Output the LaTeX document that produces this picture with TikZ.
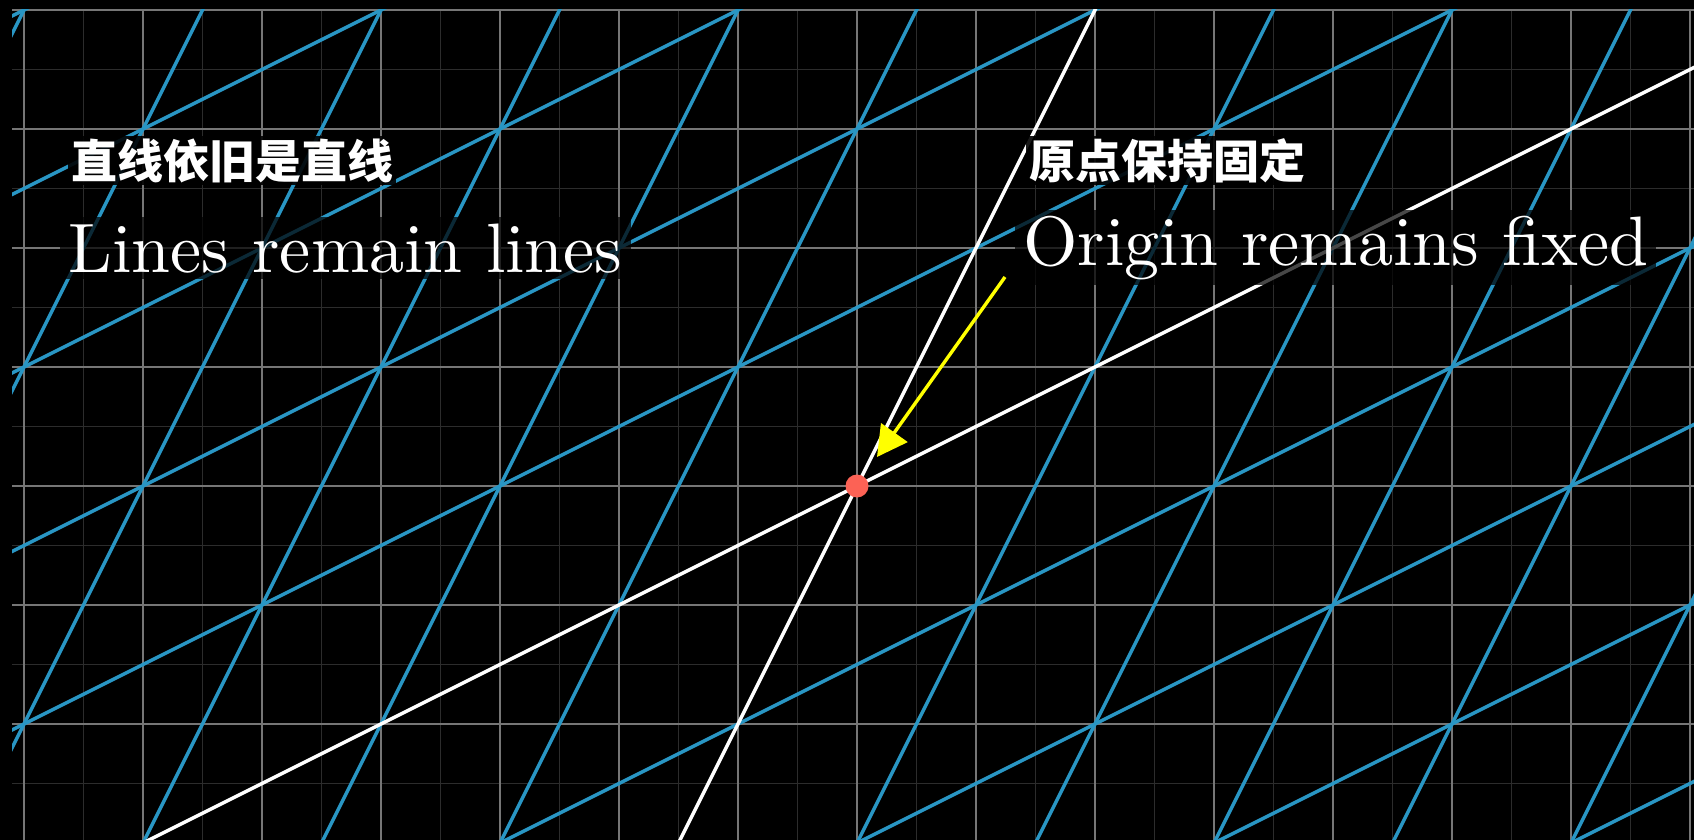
\documentclass[tikz,border=0pt]{standalone}
\usepackage{fontspec}
\newfontfamily\zhfont{Noto Sans CJK SC}
\newfontfamily\enfont{lmroman10-regular.otf}
\usetikzlibrary{arrows.meta}
\definecolor{gridblue}{RGB}{41,150,196}
\definecolor{majorgrid}{RGB}{118,118,118}
\definecolor{minorgrid}{RGB}{44,44,44}
\definecolor{dotred}{HTML}{FC6255}
\definecolor{arrowyellow}{HTML}{FFFF00}
\tikzset{
  minorline/.style={draw=minorgrid, line width=0.75pt},
  majorline/.style={draw=majorgrid, line width=1pt},
  blueline/.style={draw=gridblue, line width=1.75pt},
  axisline/.style={draw=white, line width=1.75pt},
  reddot/.style={circle, fill=dotred, minimum size=11.5pt, inner sep=0pt},
  yellowarrow/.style={draw=arrowyellow, line width=1.7pt, -{Triangle[length=15pt, width=16pt]}},
  enlabel/.style={text=white, font=\enfont\fontsize{35}{40}\selectfont, fill=black, fill opacity=0.72, text opacity=1, inner xsep=4pt, inner ysep=3pt},
  cjklabel/.style={text=white, font=\zhfont\bfseries\fontsize{23}{23}\selectfont, fill=black, fill opacity=0.9, text opacity=1, inner xsep=1.5pt, inner ysep=1pt}
}
\begin{document}
\begin{tikzpicture}[x=0.5pt, y=-0.5pt]
  \fill[black] (0,0) rectangle (1694,840);
  \useasboundingbox (0,0) rectangle (1694,840);
  \begin{scope}
    \clip (12,10) rectangle (1694,840);
    \begin{scope}[shift={(857,486)}, x=59.5pt, y=59.5pt]
      % background grid
      \foreach \i in {-17,...,17} {
        \draw[minorline] ({\i/2},-4) -- ({\i/2},5);
      }
      \foreach \j in {-8,...,10} {
        \draw[minorline] (-9,{\j/2}) -- (9,{\j/2});
      }
      \foreach \i in {-8,...,8} {
        \draw[majorline] (\i,-4) -- (\i,5);
      }
      \foreach \j in {-4,...,5} {
        \draw[majorline] (-9,\j) -- (9,\j);
      }
      % transformed grid: steep family
      \foreach \a in {-7,...,7} {
        \ifnum\a=0\relax\else
          \draw[blueline] ({2*\a-6},{\a-12}) -- ({2*\a+6},{\a+12});
        \fi
      }
      % transformed grid: shallow family
      \foreach \b in {-6,...,6} {
        \ifnum\b=0\relax\else
          \draw[blueline] ({\b-24},{2*\b-12}) -- ({\b+24},{2*\b+12});
        \fi
      }
      % transformed axes
      \draw[axisline] (-6,-12) -- (6,12);
      \draw[axisline] (-24,-12) -- (24,12);
      \node[reddot] (origin) at (0,0) {};
    \end{scope}
  \end{scope}
  % arrow
  \coordinate (arrowstart) at (1005,277);
  \coordinate (arrowtip) at (877,457);
  \draw[yellowarrow] (arrowstart) -- (arrowtip);
  % labels
  \node[cjklabel, anchor=base west] (zhlines) at (68,178) {直线依旧是直线};
  \node[enlabel, anchor=base west] (enlines) at (60,272) {Lines remain lines};
  \node[cjklabel, anchor=base west] (zhorigin) at (1026,178) {原点保持固定};
  \node[enlabel, anchor=base west] (enorigin) at (1015,265) {Origin remains fixed};
\end{tikzpicture}
\end{document}
